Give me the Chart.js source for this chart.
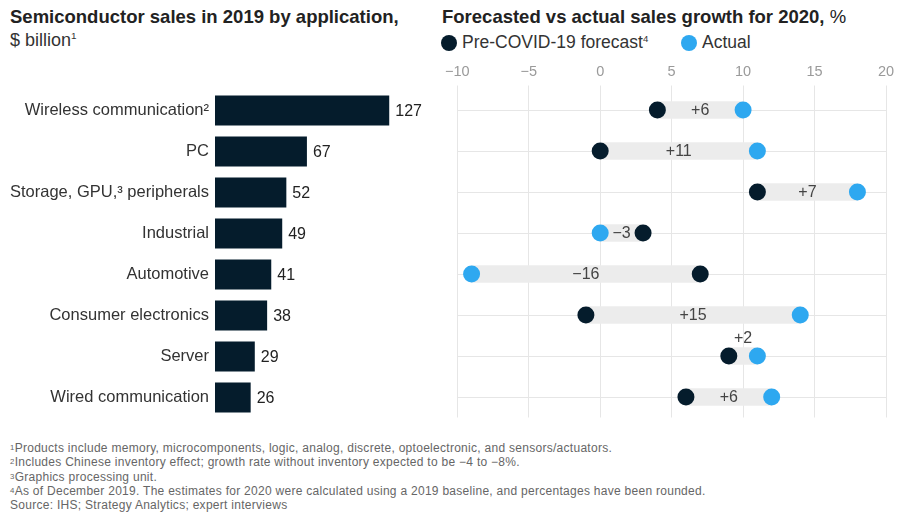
<!DOCTYPE html>
<html>
<head>
<meta charset="utf-8">
<script src="https://cdn.jsdelivr.net/npm/chart.js@4.4.1/dist/chart.umd.min.js"></script>
<style>
  html, body { margin: 0; padding: 0; background: #fff; }
  body { width: 900px; height: 513px; position: relative; overflow: hidden;
         font-family: "Liberation Sans", Arial, sans-serif; color: #222; }
  .title { position: absolute; font-size: 18.5px; font-weight: bold; color: #222; white-space: nowrap; }
  .title span { font-weight: normal; }
  .sub { position: absolute; font-size: 18px; color: #333; white-space: nowrap; }
  sup { font-size: 55%; vertical-align: top; position: relative; top: 0px; }
  .legend { position: absolute; top: 32px; left: 441px; font-size: 17.5px; color: #333; white-space: nowrap; }
  .legend .item { position: absolute; top: 0; display: flex; align-items: center; }
  .legend .dot { width: 16px; height: 16px; border-radius: 50%; margin-right: 5px; flex: none; }
  .legend sup { font-size: 55%; vertical-align: top; position: relative; top: 1px; }
  .notes { position: absolute; left: 10px; top: 441px; font-size: 12px; letter-spacing: 0.28px; line-height: 14.3px; color: #666; white-space: nowrap; }
  .notes sup { font-size: 65%; }
  canvas { position: absolute; }
</style>
</head>
<body>
<div class="title" style="left:10px; top:6px;">Semiconductor sales in 2019 by application,</div>
<div class="sub" style="left:10px; top:30px;">$ billion<sup>1</sup></div>

<div class="title" style="left:442px; top:6px;">Forecasted vs actual sales growth for 2020, <span>%</span></div>
<div class="legend">
  <div class="item" style="left:0px;"><div class="dot" style="background:#051c2c"></div><span>Pre-COVID-19 forecast<sup>4</sup></span></div>
  <div class="item" style="left:240px;"><div class="dot" style="background:#2ea8f0"></div><span>Actual</span></div>
</div>

<canvas id="sales" width="440" height="328" style="left:0px; top:89.5px;"></canvas>
<canvas id="growth" width="460" height="360" style="left:440px; top:60px;"></canvas>

<div class="notes">
  <div><sup>1</sup>Products include memory, microcomponents, logic, analog, discrete, optoelectronic, and sensors/actuators.</div>
  <div><sup>2</sup>Includes Chinese inventory effect; growth rate without inventory expected to be −4 to −8%.</div>
  <div><sup>3</sup>Graphics processing unit.</div>
  <div><sup>4</sup>As of December 2019. The estimates for 2020 were calculated using a 2019 baseline, and percentages have been rounded.</div>
  <div>Source: IHS; Strategy Analytics; expert interviews</div>
</div>

<script>
// Applications, 2019 sales ($ billion) and 2020 growth (%)
const categories = [
  'Wireless communication\u00B2',
  'PC',
  'Storage, GPU,\u00B3 peripherals',
  'Industrial',
  'Automotive',
  'Consumer electronics',
  'Server',
  'Wired communication'
];
const sales2019 = [127, 67, 52, 49, 41, 38, 29, 26];
const forecast2020 = [4, 0, 11, 3, 7, -1, 9, 6];
const actual2020 = [10, 11, 18, 0, -9, 14, 11, 12];
const growthTicks = { min: -10, max: 20, step: 5 };

const FONT = '"Liberation Sans", Arial, sans-serif';
const NAVY = '#051c2c';
const CYAN = '#2ea8f0';
const GRID = '#e6e6e6';

Chart.defaults.font.family = FONT;

// Keep the category axis from reserving room for half-labels above and below
function noEdgePadding(scale) {
  scale.paddingTop = 0;
  scale.paddingBottom = 0;
}

// Value printed at the end of each sales bar
const barValueLabels = {
  id: 'barValueLabels',
  afterDatasetsDraw(chart) {
    const { ctx } = chart;
    const meta = chart.getDatasetMeta(0);
    const values = chart.data.datasets[0].data;
    ctx.save();
    ctx.font = '16px ' + FONT;
    ctx.fillStyle = '#222';
    ctx.textBaseline = 'middle';
    ctx.textAlign = 'left';
    meta.data.forEach((bar, i) => ctx.fillText(String(values[i]), bar.x + 6, bar.y + 1));
    ctx.restore();
  }
};

// Gap between forecast and actual, written on the grey band
const gapLabels = {
  id: 'gapLabels',
  afterDatasetsDraw(chart) {
    const { ctx } = chart;
    const xs = chart.scales.x;
    const meta = chart.getDatasetMeta(0);
    ctx.save();
    ctx.font = '16px ' + FONT;
    ctx.fillStyle = '#444';
    ctx.textBaseline = 'middle';
    ctx.textAlign = 'center';
    meta.data.forEach((band, i) => {
      const d = actual2020[i] - forecast2020[i];
      const txt = (d > 0 ? '+' : '\u2212') + Math.abs(d);
      const cx = (xs.getPixelForValue(forecast2020[i]) + xs.getPixelForValue(actual2020[i])) / 2;
      const y = Math.abs(d) < 3 ? band.y - 17 : band.y + 1;
      ctx.fillText(txt, cx, y);
    });
    ctx.restore();
  }
};

new Chart(document.getElementById('sales'), {
  type: 'bar',
  data: {
    labels: categories,
    datasets: [{
      data: sales2019,
      backgroundColor: NAVY,
      barPercentage: 0.73,
      categoryPercentage: 1
    }]
  },
  options: {
    indexAxis: 'y',
    responsive: false,
    animation: false,
    events: [],
    layout: { padding: 0 },
    plugins: { legend: { display: false }, tooltip: { enabled: false } },
    scales: {
      x: { display: false, min: 0, max: 164 },
      y: {
        grid: { display: false, drawTicks: false },
        border: { display: false },
        ticks: { color: '#333', font: { size: 16.5 }, padding: 6 },
        afterFit(scale) { scale.width = 215; noEdgePadding(scale); }
      }
    }
  },
  plugins: [barValueLabels]
});

new Chart(document.getElementById('growth'), {
  type: 'bar',
  data: {
    labels: categories,
    datasets: [
      {
        type: 'bar',
        data: forecast2020.map((f, i) => [f, actual2020[i]]),
        backgroundColor: '#ececec',
        barThickness: 17,
        order: 2
      },
      {
        type: 'line',
        indexAxis: 'y',
        data: forecast2020.map((v, i) => ({ x: v, y: categories[i] })),
        showLine: false,
        pointRadius: 8.5,
        pointBorderWidth: 0,
        pointBackgroundColor: NAVY,
        order: 1
      },
      {
        type: 'line',
        indexAxis: 'y',
        data: actual2020.map((v, i) => ({ x: v, y: categories[i] })),
        showLine: false,
        pointRadius: 8.5,
        pointBorderWidth: 0,
        pointBackgroundColor: CYAN,
        order: 0
      }
    ]
  },
  options: {
    indexAxis: 'y',
    responsive: false,
    animation: false,
    events: [],
    layout: { autoPadding: false, padding: { left: 15, right: 14, top: 0, bottom: 2.5 } },
    plugins: { legend: { display: false }, tooltip: { enabled: false } },
    scales: {
      x: {
        position: 'top',
        min: growthTicks.min,
        max: growthTicks.max,
        ticks: {
          stepSize: growthTicks.step,
          color: '#9a9a9a',
          font: { size: 14.5 },
          padding: 5,
          callback: v => String(v).replace('-', '\u2212')
        },
        grid: { color: GRID, tickLength: 4 },
        border: { display: false },
        afterFit(scale) { scale.height = 29.5; }
      },
      y: {
        grid: { color: GRID, offset: false, drawTicks: false },
        border: { display: false },
        ticks: { display: false },
        afterFit(scale) { scale.width = 0; noEdgePadding(scale); }
      }
    }
  },
  plugins: [gapLabels]
});
</script>
</body>
</html>
